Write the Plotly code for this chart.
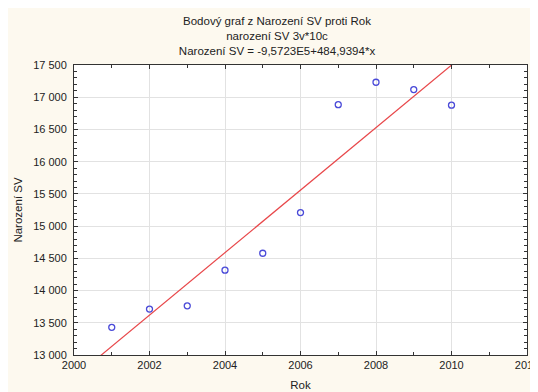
import plotly.graph_objects as go

years = [2001, 2002, 2003, 2004, 2005, 2006, 2007, 2008, 2009, 2010]
births = [13430, 13712, 13763, 14316, 14579, 15210, 16885, 17232, 17118, 16876]

intercept = -957230.0
slope = 484.9394
line_x = [2000, 2012]
line_y = [intercept + slope * x for x in line_x]

x_ticks = [2000, 2002, 2004, 2006, 2008, 2010, 2012]
x_ticktext = ["2000", "2002", "2004", "2006", "2008", "2010", "2012"]
y_ticks = [13000, 13500, 14000, 14500, 15000, 15500, 16000, 16500, 17000, 17500]
y_ticktext = ["13 000", "13 500", "14 000", "14 500", "15 000", "15 500",
              "16 000", "16 500", "17 000", "17 500"]

title_lines = ["Bodový graf z Narození SV proti Rok",
               "narození SV 3v*10c",
               "Narození SV = -9,5723E5+484,9394*x"]

FONT = "Liberation Sans, Arial, sans-serif"
CREAM = "#fdf9ef"

fig = go.Figure()
fig.add_trace(go.Scatter(
    x=line_x, y=line_y, mode="lines",
    line=dict(color="#e8474a", width=1.2),
    hoverinfo="skip", showlegend=False,
))
fig.add_trace(go.Scatter(
    x=years, y=births, mode="markers",
    marker=dict(symbol="circle-open", size=6, color="#4a4ad8", line=dict(width=1.3, color="#4a4ad8")),
    showlegend=False,
))

axis_common = dict(
    showline=True, linecolor="#333333", linewidth=1, mirror="ticks",
    ticks="inside", ticklen=4, tickcolor="#333333",
    showgrid=True, gridcolor="#e2e2e2", gridwidth=1,
    zeroline=False,
    tickfont=dict(family=FONT, size=11, color="#222222"),
)

fig.update_xaxes(
    **axis_common,
    range=[2000, 2012], tickvals=x_ticks, ticktext=x_ticktext,
    minor=dict(dtick=1, ticks="inside", ticklen=3, tickcolor="#333333", showgrid=False),
    title=dict(text="Rok", font=dict(family=FONT, size=11.5, color="#222222"), standoff=10),
)
fig.update_yaxes(
    **axis_common,
    range=[13000, 17500], tickvals=y_ticks, ticktext=y_ticktext,
    minor=dict(dtick=100, ticks="inside", ticklen=3, tickcolor="#333333", showgrid=False),
    title=dict(text="Narození SV", font=dict(family=FONT, size=11.5, color="#222222"), standoff=8),
    ticklabelstandoff=4,
)

fig.update_layout(
    width=538, height=392,
    margin=dict(l=66, r=19, t=57, b=45, autoexpand=False),
    paper_bgcolor=CREAM,
    plot_bgcolor="white",
    font=dict(family=FONT, size=11.5, color="#222222"),
    title=dict(
        text="<br>".join(title_lines),
        x=0.5, xref="container", xanchor="center",
        y=1 - 17 / 392, yref="container", yanchor="top",
        font=dict(family=FONT, size=11.5, color="#222222"),
    ),
)

fig.write_html("out.html")
